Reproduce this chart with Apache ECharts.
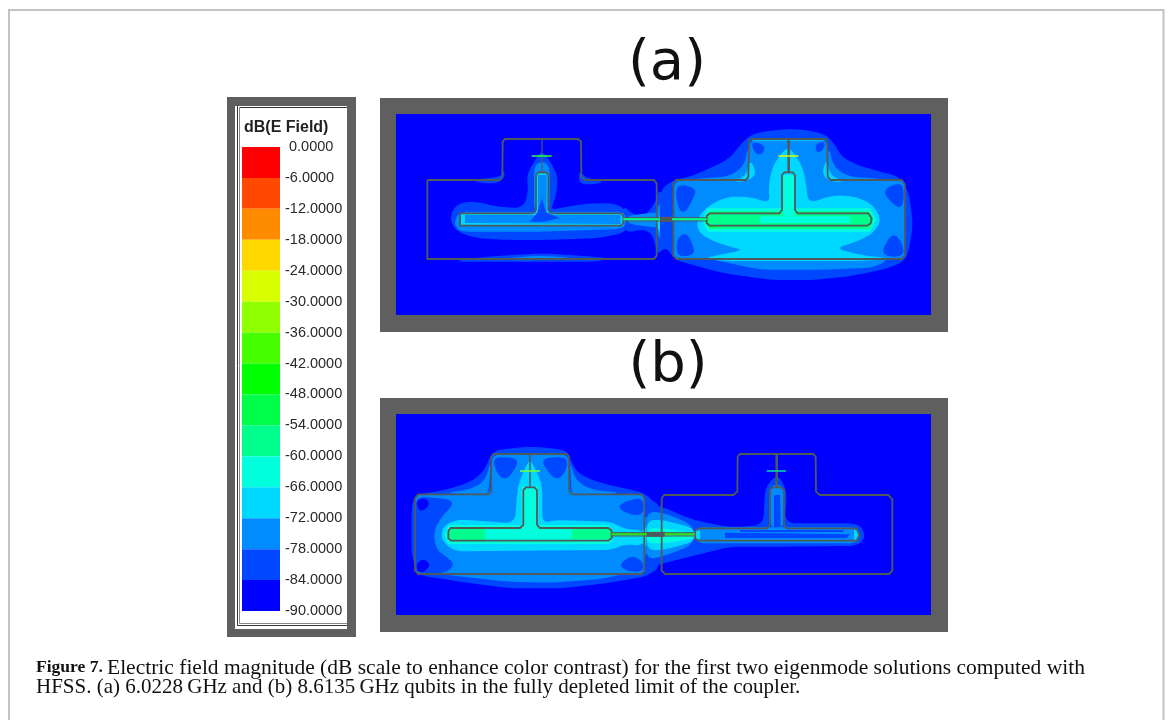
<!DOCTYPE html>
<html><head><meta charset="utf-8">
<style>html,body{margin:0;padding:0;background:#fff}#c{width:1171px;height:720px}</style>
<script src="https://cdn.jsdelivr.net/npm/echarts@6/dist/echarts.min.js"></script>
</head><body><div id="c"></div>
<script>
// Colour scale, top (0 dB) to bottom (-90 dB)
const legendTitle = 'dB(E Field)';
const legendSteps = [-6,-6,-6,-6,-6,-6,-6,-6,-6,-6,-6,-6,-6,-6,-6];
const legendColors = ['#ff0000','#ff4800','#ff8c00','#ffd800','#d8ff00','#90ff00','#48ff00','#00ff00','#00ff48','#00ff8c','#00ffdc','#00d8ff','#008cff','#0048ff','#0000ff'];
// level index counted from the bottom of the scale
const levelColor = l => legendColors[14 - l];

// Field contours: [level, outline points], painted in order
const aLeftField = [
 [1,[[640,325],[700,312],[730,330],[742,392],[765,365],[790,392],[830,400],[830,175],[790,190],[765,212],[745,195],[738,230],[700,280],[660,262],[640,240]]],
 [2,[[650,272],[740,262],[790,262],[790,310],[740,308],[650,296]]],
 [2,[[742,240],[765,225],[790,240],[790,340],[765,352],[742,335]]],
 [3,[[742,268],[790,268],[790,318],[765,325],[742,318]]],
 [1,[[120,285],[130,250],[155,232],[200,230],[260,245],[340,250],[355,200],[350,150],[372,110],[396,75],[425,115],[445,160],[435,225],[420,255],[470,245],[540,235],[620,235],[655,262],[655,300],[640,325],[560,340],[400,345],[300,345],[200,340],[140,320]]],
 [2,[[135,285],[150,260],[640,260],[650,285],[640,312],[400,320],[150,320],[135,300]]],
 [2,[[372,130],[385,112],[410,112],[420,140],[418,265],[372,265]]],
 [1,[[200,398],[280,392],[390,385],[480,390],[560,396],[600,400],[560,410],[130,410]]],
 [2,[[280,400],[390,392],[480,398],[500,404],[300,406]]],
 [1,[[280,135],[275,155],[180,166],[230,176],[272,172],[285,150]]],
 [1,[[510,135],[505,165],[520,180],[590,172],[525,158]]]
];
const aLeftPadFill = [
 [3,[[150,265],[640,265],[640,302],[150,302]]],
 [2,[[165,270],[632,270],[632,297],[165,294]]],
 [3,[[378,145],[415,145],[415,265],[378,265]]],
 [2,[[384,150],[410,150],[410,268],[384,268]]],
 [1,[[360,290],[382,262],[396,220],[408,262],[450,280],[400,290]]]
];
const aRightField = [
 [1,[[320,18],[380,12],[445,15],[500,30],[525,60],[545,95],[590,120],[660,140],[720,155],[745,200],[755,260],[758,310],[745,380],[735,405],[700,425],[640,440],[560,455],[460,465],[340,465],[260,455],[170,440],[100,420],[45,405],[25,375],[5,355],[0,340],[0,195],[40,165],[90,155],[150,130],[210,100],[240,60],[270,30]]],
 [2,[[150,402],[690,402],[640,428],[500,434],[300,434]]],
 [2,[[505,60],[520,125],[565,155],[650,160],[700,172],[500,172]]],
 [2,[[265,60],[252,125],[205,155],[120,160],[60,172],[265,172]]],
 [2,[[40,165],[267,165],[267,42],[503,42],[503,165],[725,165],[735,178],[735,392],[725,402],[50,402],[40,392]]],
 [1,[[276,50],[315,60],[310,85],[290,90],[278,70]]],
 [1,[[465,55],[497,50],[490,75],[470,85]]],
 [1,[[48,175],[110,190],[100,220],[72,270],[50,240]]],
 [1,[[50,340],[80,320],[105,375],[95,392],[50,395]]],
 [1,[[665,195],[725,170],[733,210],[725,250],[700,240]]],
 [1,[[665,375],[700,320],[730,360],[730,395],[680,395]]],
 [3,[[385,65],[360,90],[335,130],[325,190],[330,235],[270,215],[200,215],[140,245],[110,285],[115,320],[150,345],[210,365],[250,375],[200,385],[130,400],[690,400],[600,390],[525,370],[590,350],[640,325],[665,285],[640,240],[590,215],[520,210],[445,235],[440,190],[430,130],[405,90]]],
 [3,[[270,100],[292,150],[250,172],[215,168],[258,155]]],
 [3,[[500,100],[484,150],[520,172],[560,168],[512,155]]],
 [3,[[272,42],[497,42],[497,47],[272,47]]],
 [3,[[130,402],[690,402],[600,408],[200,408]]]
];
const aRightPadFill = [
 [4,[[125,285],[145,250],[630,250],[648,285],[630,320],[145,320]]],
 [5,[[132,285],[148,258],[630,258],[642,285],[630,312],[148,312]]],
 [6,[[134,285],[148,262],[175,262],[175,308],[148,308]]],
 [5,[[145,268],[630,268],[630,300],[145,300]]],
 [4,[[300,274],[570,274],[570,294],[300,294]]],
 [4,[[368,150],[404,150],[404,275],[368,275]]]
];
const bLeftField = [
 [1,[[260,35],[310,25],[380,20],[450,25],[490,35],[500,70],[525,105],[590,130],[680,150],[720,160],[750,190],[760,190],[760,385],[745,395],[720,410],[600,430],[470,445],[320,445],[200,430],[100,415],[40,405],[20,350],[20,200],[30,165],[120,150],[200,125],[240,90]]],
 [2,[[100,402],[660,402],[580,418],[440,428],[310,425]]],
 [2,[[495,60],[510,120],[560,150],[650,158],[500,170]]],
 [2,[[258,60],[240,125],[190,150],[120,158],[250,170]]],
 [2,[[32,175],[40,163],[259,163],[259,42],[492,42],[493,163],[710,163],[718,175],[718,392],[710,402],[40,402],[32,392]]],
 [1,[[265,50],[345,55],[320,105],[295,120],[270,90]]],
 [1,[[405,55],[487,50],[485,90],[460,120],[435,105]]],
 [1,[[32,168],[135,178],[145,195],[105,235],[85,280],[95,330],[125,350],[150,375],[120,400],[32,400]]],
 [1,[[640,195],[680,178],[715,175],[715,225],[680,225],[650,212]]],
 [1,[[640,375],[680,345],[715,365],[715,395],[670,395]]],
 [0,[[35,178],[65,175],[75,195],[50,215],[38,205]]],
 [0,[[35,370],[55,355],[78,375],[55,398],[35,395]]],
 [2,[[710,232],[745,228],[745,345],[710,345]]],
 [3,[[710,262],[745,258],[745,322],[710,318]]],
 [4,[[710,272],[745,270],[745,305],[710,298]]],
 [3,[[375,55],[395,95],[412,135],[412,250],[450,240],[620,245],[660,268],[718,270],[718,318],[660,312],[620,330],[150,334],[118,310],[108,285],[118,255],[160,238],[330,250],[338,140],[355,95]]]
];
const bLeftPadFill = [
 [4,[[118,285],[130,255],[610,255],[625,272],[625,300],[610,312],[130,312]]],
 [4,[[350,140],[400,140],[400,262],[350,262]]],
 [5,[[130,272],[138,264],[240,264],[240,302],[138,302],[130,295]]],
 [5,[[500,268],[620,268],[620,298],[500,298]]]
];
const bRightField = [
 [1,[[-10,190],[35,200],[130,240],[240,262],[340,255],[345,150],[360,125],[382,105],[400,130],[410,160],[405,250],[520,250],[620,250],[640,270],[645,295],[620,318],[400,320],[240,320],[140,345],[40,370],[-10,385]]],
 [2,[[-10,215],[40,218],[130,255],[130,315],[35,350],[-10,358]]],
 [3,[[-10,240],[40,240],[135,265],[135,305],[40,330],[-10,330]]],
 [4,[[-10,265],[40,265],[135,280],[135,295],[40,310],[-10,310]]],
 [2,[[135,262],[620,262],[632,285],[620,310],[135,310]]],
 [2,[[360,135],[402,135],[402,265],[360,265]]]
];
const bRightPadFill = [
 [1,[[225,278],[400,280],[600,283],[590,294],[225,294]]],
 [1,[[372,165],[390,165],[392,262],[372,262]]],
 [1,[[270,270],[580,270],[580,276],[270,276]]],
 [3,[[135,272],[150,272],[150,298],[135,298]]],
 [3,[[620,270],[628,285],[620,302],[612,302],[612,270]]]
];

// Conductor outlines
const aLeftGround = [[52,165],[268,165],[277,155],[278,50],[285,42],[505,42],[513,50],[514,155],[524,165],[732,165],[740,175],[740,392],[732,402],[52,402],[52,165]];
const aLeftPad = [[150,265],[368,265],[378,255],[378,150],[385,142],[408,142],[415,150],[415,255],[425,265],[632,265],[640,272],[640,295],[632,302],[150,302],[150,265]];
const aLeftStem = [[396,42],[396,142]];
const aLeftCross = [[365,93],[425,93]];
const aRightGround = [[40,175],[48,165],[258,165],[265,155],[267,50],[272,42],[497,42],[502,50],[503,155],[512,165],[725,165],[735,178],[735,392],[725,402],[50,402],[40,392],[40,175]];
const aRightPad = [[150,265],[358,265],[366,255],[366,150],[373,142],[398,142],[405,150],[405,255],[413,265],[625,265],[635,280],[632,295],[622,302],[150,302],[140,295],[140,272],[150,265]];
const aRightStem = [[386,42],[386,142]];
const aRightCross = [[355,93],[415,93]];
const bLeftGround = [[30,175],[40,163],[250,163],[258,155],[259,50],[266,42],[485,42],[492,50],[493,155],[503,163],[710,163],[718,175],[718,392],[710,402],[40,402],[30,392],[30,175]];
const bLeftPad = [[130,272],[138,264],[345,264],[355,255],[355,150],[363,142],[388,142],[396,150],[396,255],[405,264],[610,264],[620,272],[620,295],[610,302],[138,302],[130,295],[130,272]];
const bLeftStem = [[375,42],[375,142]];
const bLeftCross = [[345,93],[405,93]];
const bRightGround = [[35,175],[42,165],[250,165],[262,155],[263,50],[270,42],[490,42],[497,50],[498,155],[510,165],[715,165],[727,178],[727,392],[717,402],[45,402],[35,392],[35,175]];
const bRightPad = [[135,272],[145,265],[350,265],[360,255],[360,150],[368,142],[393,142],[402,150],[402,255],[410,265],[620,265],[628,285],[620,302],[145,302],[135,295],[135,272]];
const bRightStem = [[380,42],[380,142]];
const bRightCross = [[350,93],[408,93]];
// Coupler between the qubits (feed line span, then block span)
const aCouplerX = [682,932,792,828];
const aCouplerY = 316;
const bCouplerX = [647,897,752,806];
const bCouplerY = 361;

function shift(pts, o){ return pts.map(p => [p[0]+o[0], p[1]+o[1]]); }
// Corner cutting: rounds a closed outline without overshoot
function round(pts, cut){
  const n = pts.length, out = [];
  for (let i=0;i<n;i++){
    const a = pts[i], b = pts[(i+1)%n];
    const dx = b[0]-a[0], dy = b[1]-a[1], len = Math.hypot(dx,dy)||1;
    const d = Math.min(0.25, cut/len);
    out.push([a[0]+dx*d, a[1]+dy*d], [b[0]-dx*d, b[1]-dy*d]);
  }
  return out;
}
const soft = pts => round(round(round(pts, 16), 8), 4);
function qubit(o, field, padFill, ground, pad, stem, cross, crossColor, stemWidth){
  const out = [];
  field.forEach(f => out.push({t:'fill', color:levelColor(f[0]), pts:soft(shift(f[1],o))}));
  padFill.forEach(f => out.push({t:'fill', color:levelColor(f[0]), pts:shift(f[1],o)}));
  return {fills:out, lines:[
    {color:'#505a5a', width:1.8, pts:shift(ground,o)},
    {color:'#505a5a', width:1.8, pts:shift(pad,o)},
    {color:'#505a5a', width:stemWidth, pts:shift(stem,o)},
    {color:crossColor, width:1.5, pts:shift(cross,o)}
  ]};
}
function coupler(xs, y, c){
  return [
   {color:c, width:2.5, pts:[[xs[0],y],[xs[1],y]]},
   {color:'#505a5a', width:1, pts:[[xs[0],y-5],[xs[1],y-5]]},
   {color:'#505a5a', width:1, pts:[[xs[0],y+5],[xs[1],y+5]]},
   {color:'#505a5a', width:5, pts:[[xs[2],y],[xs[3],y]]}
  ];
}
const qAL = qubit([42,33], aLeftField, aLeftPadFill, aLeftGround, aLeftPad, aLeftStem, aLeftCross, '#30ff30', 1.2);
const qAR = qubit([792,33], aRightField, aRightPadFill, aRightGround, aRightPad, aRightStem, aRightCross, '#d8ff00', 2.5);
const qBL = qubit([27,78], bLeftField, bLeftPadFill, bLeftGround, bLeftPad, bLeftStem, bLeftCross, '#70ff40', 1.5);
const qBR = qubit([762,78], bRightField, bRightPadFill, bRightGround, bRightPad, bRightStem, bRightCross, '#00e0a0', 2.5);

function panelSeries(idx, qs, couplerLines){
  const shapes = [];
  qs.forEach(q => q.fills.forEach(s => shapes.push(s)));
  const lines = [];
  qs.forEach(q => q.lines.forEach(s => lines.push(s)));
  couplerLines.forEach(s => lines.push(s));
  const all = shapes.concat(lines.map(l => ({t:'line', color:l.color, width:l.width, pts:l.pts})));
  return {
    type:'custom', xAxisIndex:idx, yAxisIndex:idx, coordinateSystem:'cartesian2d', silent:true, clip:true,
    data: all.map((s,i)=>[i,0]),
    renderItem:(params,api)=>{
      const s = all[params.dataIndex];
      const pts = s.pts.map(p=>api.coord(p));
      if (s.t==='fill') return {type:'polygon', shape:{points:pts}, style:{fill:s.color, stroke:null}};
      return {type:'polyline', shape:{points:pts}, style:{fill:null, stroke:s.color, lineWidth:s.width}};
    }
  };
}

const captionBold = 'Figure 7.';
const captionLine1 = 'Electric field magnitude (dB scale to enhance color contrast) for the first two eigenmode solutions computed with';
const captionLine2 = 'HFSS. (a) 6.0228\u2009GHz and (b) 8.6135\u2009GHz qubits in the fully depleted limit of the coupler.';

const frameGrey = '#5f5f5f';
const chart = echarts.init(document.getElementById('c'), null, {renderer:'canvas'});
const hiddenX = i => ({gridIndex:i, type:'value', min:0, max:1605, show:false});
const hiddenY = i => ({gridIndex:i, type:'value', min:0, max:603, inverse:true, show:false});
const serif = 'Liberation Serif';
chart.setOption({
  animation:false, backgroundColor:'#fff',
  graphic:{elements:[
    {type:'rect', z:-10, shape:{x:9,y:10,width:1154.5,height:720}, style:{fill:'#fff', stroke:'#c4c4c4', lineWidth:2}},
    {type:'rect', z:-9, shape:{x:227,y:97,width:129,height:540}, style:{fill:frameGrey}},
    {type:'rect', z:-9, shape:{x:235,y:106,width:112,height:523}, style:{fill:'#fff'}},
    {type:'polyline', z:-8, shape:{points:[[237.5,106],[237.5,625.5],[347,625.5]]}, style:{fill:null,stroke:'#333',lineWidth:1}},
    {type:'polyline', z:-8, shape:{points:[[239.5,107.5],[347,107.5]]}, style:{fill:null,stroke:'#333',lineWidth:1}},
    {type:'polyline', z:-8, shape:{points:[[239.5,107.5],[239.5,623.5],[347,623.5]]}, style:{fill:null,stroke:'#888',lineWidth:1}},
    {type:'rect', z:-9, shape:{x:380,y:98,width:568,height:234}, style:{fill:frameGrey}},
    {type:'rect', z:-9, shape:{x:380,y:398,width:568,height:234}, style:{fill:frameGrey}}
  ]},
  title:[
    {text:'(a)', left:667, top:64, padding:0, textAlign:'center', textVerticalAlign:'middle', textStyle:{fontFamily:'DejaVu Sans', fontWeight:'normal', fontSize:56, color:'#111'}},
    {text:'(b)', left:668, top:366, padding:0, textAlign:'center', textVerticalAlign:'middle', textStyle:{fontFamily:'DejaVu Sans', fontWeight:'normal', fontSize:56, color:'#111'}},
    {text:legendTitle, left:244, top:120, padding:0, textStyle:{fontFamily:'Liberation Sans', fontWeight:'bold', fontSize:16, color:'#222'}},
    {text:captionBold, left:36, top:658, padding:0, textStyle:{fontFamily:serif, fontWeight:'bold', fontSize:17.5, color:'#111'}},
    {text:captionLine1, left:107, top:657, padding:0, textStyle:{fontFamily:serif, fontWeight:'normal', fontSize:21.5, color:'#111'}},
    {text:captionLine2, left:36, top:677, padding:0, textStyle:{fontFamily:serif, fontWeight:'normal', fontSize:21, color:'#111'}}
  ],
  grid:[
    {left:242, top:147, width:38, height:464, containLabel:false},
    {left:396, top:114, width:535, height:201, show:true, backgroundColor:'#0000ff', borderWidth:0},
    {left:396, top:414, width:535, height:201, show:true, backgroundColor:'#0000ff', borderWidth:0}
  ],
  xAxis:[
    {gridIndex:0, type:'category', data:['dB'], show:false},
    hiddenX(1), hiddenX(2)
  ],
  yAxis:[
    {gridIndex:0, type:'value', min:-90, max:0, interval:6, position:'right',
     axisLine:{show:false}, axisTick:{show:false}, splitLine:{show:false},
     axisLabel:{show:true, margin:5, align:'left', color:'#2a2a2a', fontFamily:'Liberation Sans', fontSize:14.5,
       formatter:v => (v===0?'\u00a0':'') + v.toFixed(4)}},
    hiddenY(1), hiddenY(2)
  ],
  series:[
    ...legendSteps.map((v,i)=>({type:'bar', xAxisIndex:0, yAxisIndex:0, stack:'scale', barWidth:'100%', silent:true,
      itemStyle:{color:legendColors[i]}, data:[v]})),
    panelSeries(1,[qAL,qAR],coupler(aCouplerX,aCouplerY,'#00ff8c')),
    panelSeries(2,[qBL,qBR],coupler(bCouplerX,bCouplerY,'#30e020'))
  ]
});
</script></body></html>
